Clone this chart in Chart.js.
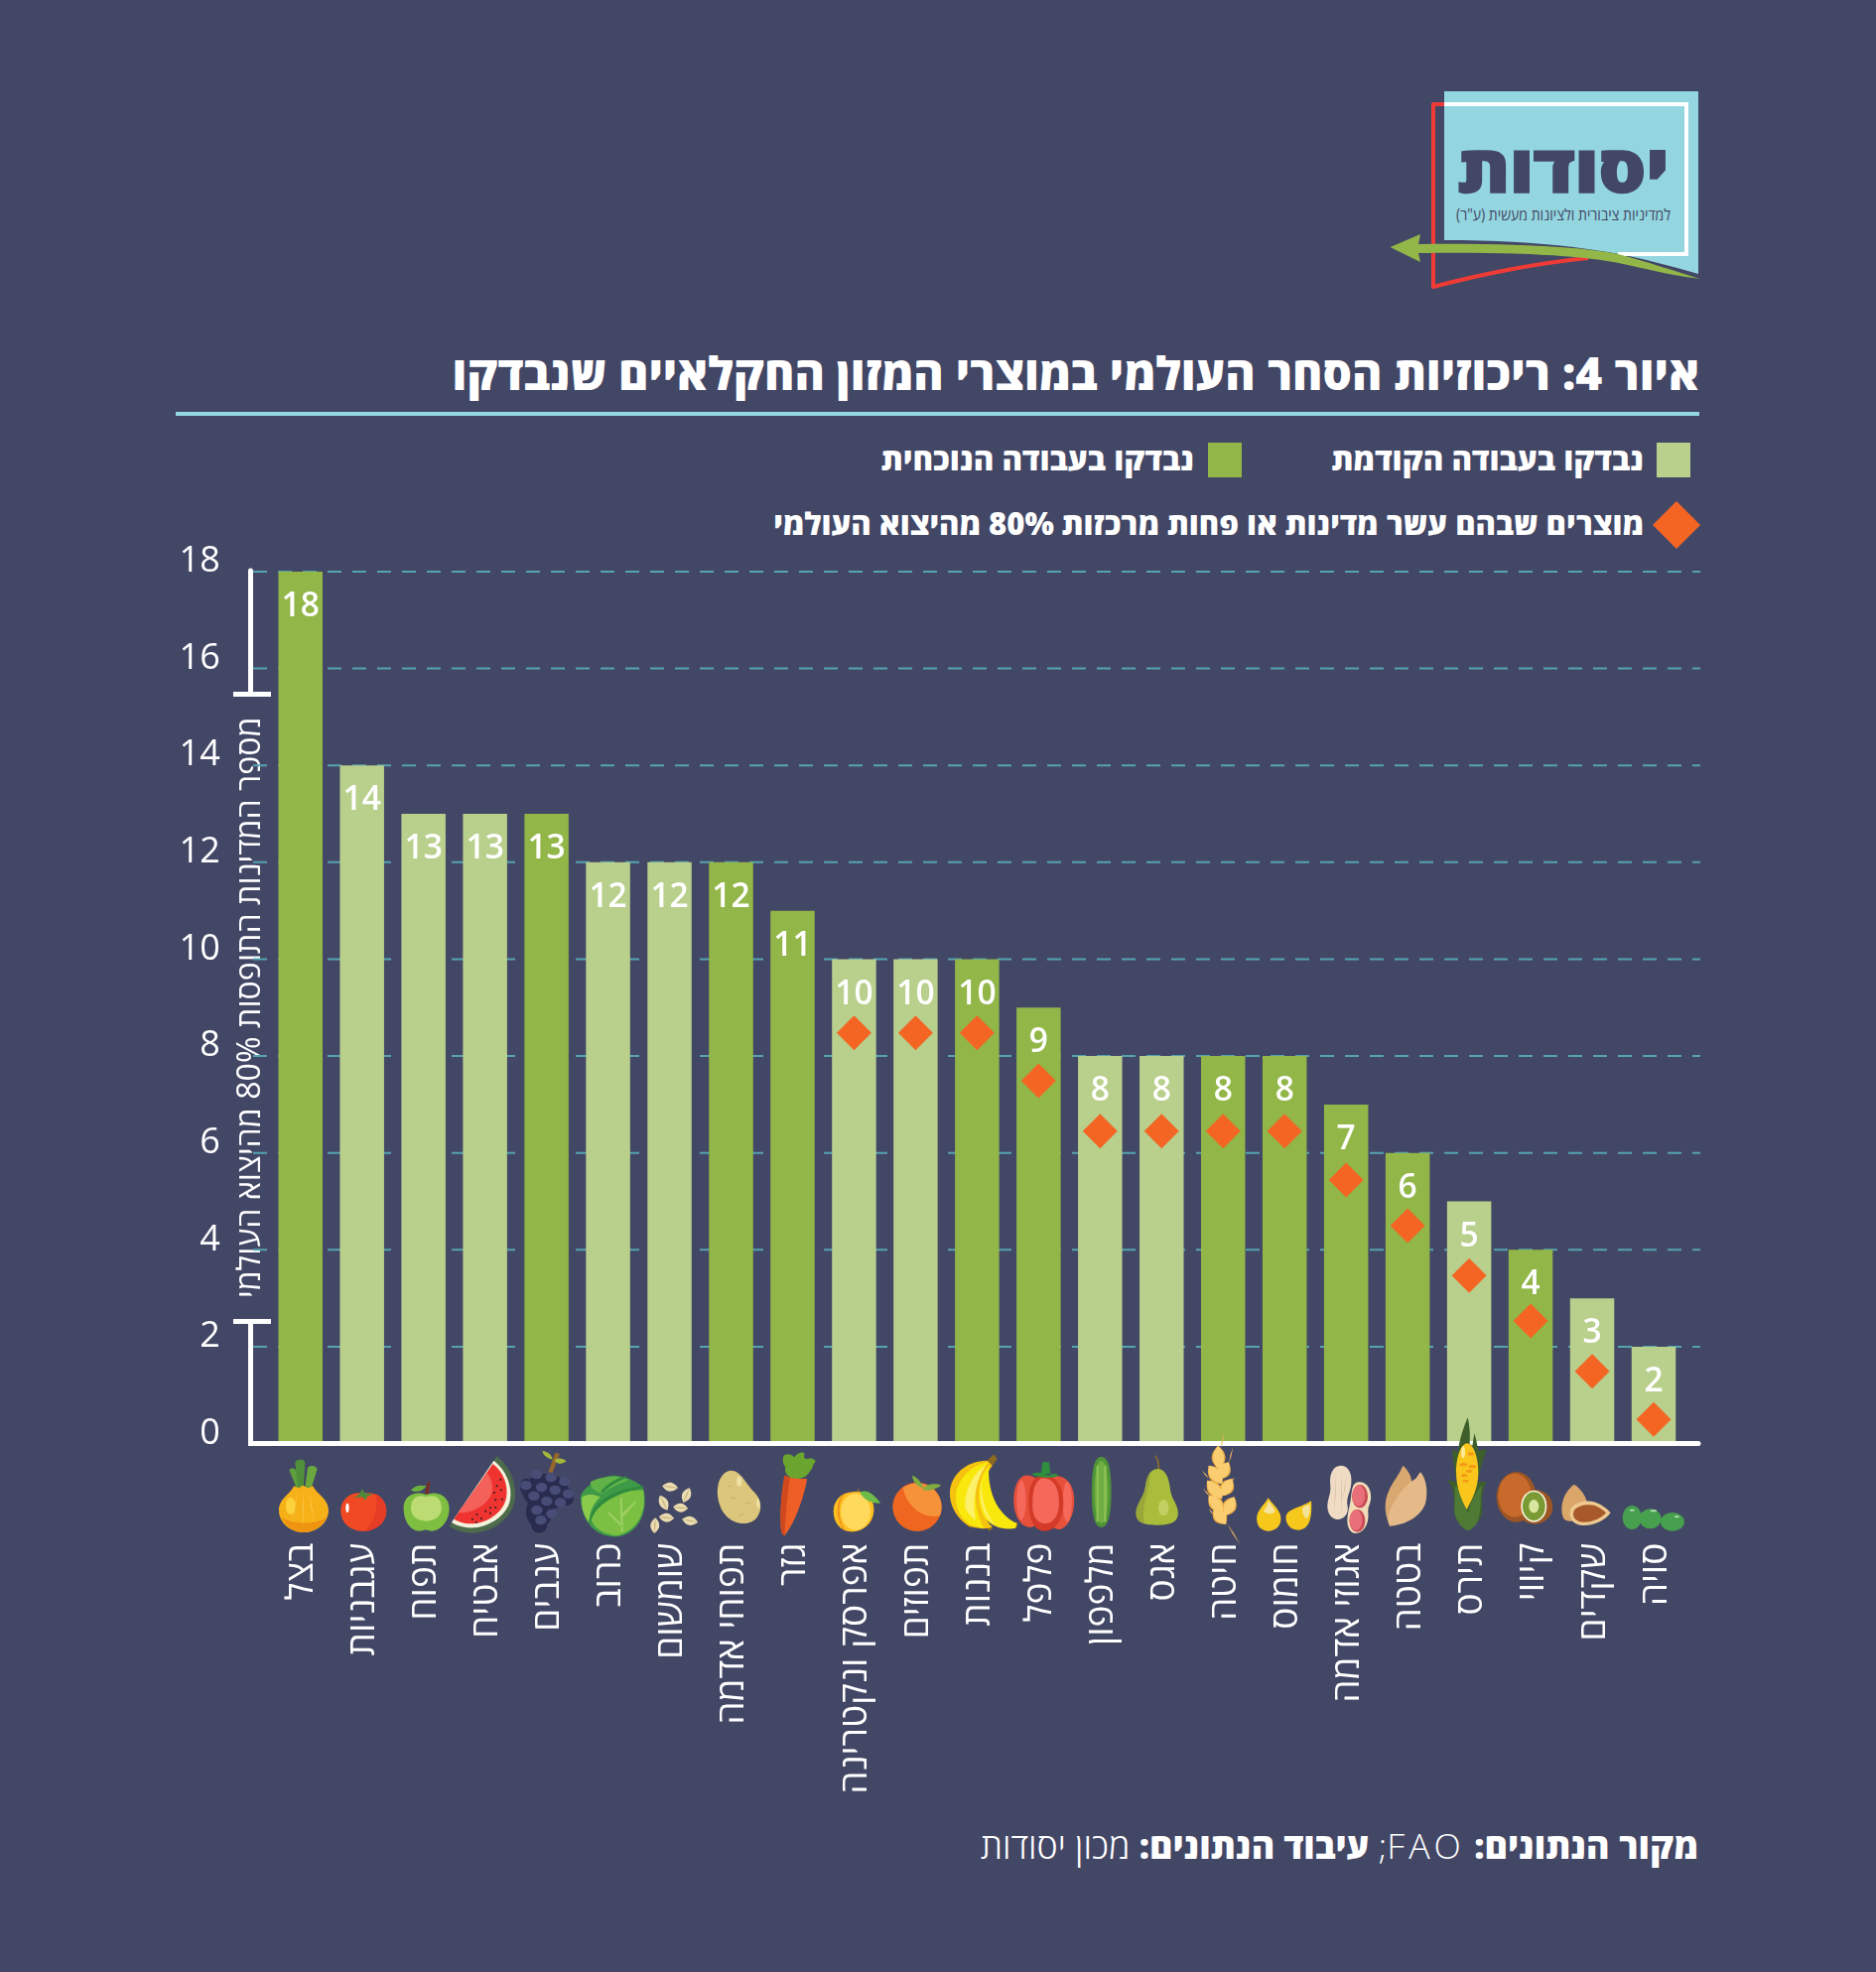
<!DOCTYPE html>
<html lang="he" dir="rtl">
<head>
<meta charset="utf-8">
<title>ריכוזיות הסחר העולמי</title>
<script src="https://cdn.jsdelivr.net/npm/chart.js@4"></script>
<style>
    html, body { margin: 0; padding: 0; background: #434766; }
    body { position: relative; width: 1890px; height: 1987px; overflow: hidden; font-family: "Open Sans", "Noto Sans", sans-serif; color: #fff; }
    #chart { position: absolute; left: 0; top: 0; }
    #logo { position: absolute; left: 0; top: 0; }
    .txt { position: absolute; white-space: nowrap; line-height: 1; }
    #title { right: 178px; top: 353px; font-size: 46.2px; font-weight: 800; }
    #rule { position: absolute; left: 177px; top: 415px; width: 1535px; height: 4px; background: #93d6df; }
    .lg { font-size: 31.3px; font-weight: 800; }
    .sw { position: absolute; top: 446px; width: 34px; height: 35px; }
    #source { right: 179px; top: 1842px; font-size: 35.7px; font-weight: 300; }
    #source b { font-weight: 800; }
    #source span { letter-spacing: 4px; }
</style>
</head>
<body>
<svg id="logo" width="1890" height="320" xmlns="http://www.w3.org/2000/svg">
    <path d="M1455 92H1711V276C1660 262 1600 242 1455 242Z" fill="#93d6df"/>
    <path d="M1455 105H1699V256H1630" fill="none" stroke="#fff" stroke-width="4"/>
    <path d="M1600 260C1540 266 1490 277 1444 289V105H1455" fill="none" stroke="#ef3b36" stroke-width="4" stroke-linejoin="round"/>
    <path d="M1429 246L1431 236L1400.5 249L1431 264L1429 255C1500 254 1590 255 1640 267C1670 274 1695 279 1713 281C1690 274 1660 264 1630 256C1590 247 1500 245 1429 246Z" fill="#92b648"/>
    <text x="1575" y="194" text-anchor="middle" font-size="66" font-weight="800" fill="#434766" stroke="#434766" stroke-width="1.5" textLength="213" lengthAdjust="spacingAndGlyphs">יסודות</text>
    <text x="1575" y="222" text-anchor="middle" font-size="16" fill="#434766" textLength="216" lengthAdjust="spacingAndGlyphs">למדיניות ציבורית ולציונות מעשית (ע"ר)</text>
</svg>
<div id="title" class="txt">איור 4: ריכוזיות הסחר העולמי במוצרי המזון החקלאיים שנבדקו</div>
<div id="rule"></div>
<div class="sw" style="left:1669px;background:#b9cf8c"></div>
<div class="txt lg" style="right:234px;top:447px">נבדקו בעבודה הקודמת</div>
<div class="sw" style="left:1217px;background:#92b648"></div>
<div class="txt lg" style="right:687px;top:447px">נבדקו בעבודה הנוכחית</div>
<svg style="position:absolute;left:1664px;top:504px" width="50" height="50"><path d="M25 1L49 25L25 49L1 25Z" fill="#f46524"/></svg>
<div class="txt lg" style="right:234px;top:512px;font-size:31px">מוצרים שבהם עשר מדינות או פחות מרכזות 80% מהיצוא העולמי</div>
<div id="source" class="txt"><b>מקור הנתונים:</b> <span>FAO</span>; <b>עיבוד הנתונים:</b> מכון יסודות</div>
<canvas id="chart" width="1890" height="1987"></canvas>
<script>
const categories = ['בצל', 'עגבניות', 'תפוח', 'אבטיח', 'ענבים', 'כרוב', 'שומשום', 'תפוחי אדמה', 'גזר', 'אפרסק ונקטרינה', 'תפוזים', 'בננות', 'פלפל', 'מלפפון', 'אגס', 'חיטה', 'חומוס', 'אגוזי אדמה', 'בטטה', 'תירס', 'קיווי', 'שקדים', 'סויה'];
const countryCounts = [18, 14, 13, 13, 13, 12, 12, 12, 11, 10, 10, 10, 9, 8, 8, 8, 8, 7, 6, 5, 4, 3, 2];
const inCurrentStudy = [1, 0, 0, 0, 1, 0, 0, 1, 1, 0, 0, 1, 1, 0, 0, 1, 1, 1, 1, 0, 1, 0, 0];
const diamondLevels = [null, null, null, null, null, null, null, null, null, 8.48, 8.48, 8.48, 7.49, 6.45, 6.45, 6.45, 6.45, 5.44, 4.5, 3.47, 2.53, 1.49, 0.5];
const yTicks = [0, 2, 4, 6, 8, 10, 12, 14, 16, 18];
const yTitle = 'מספר המדינות התופסות 80% מהיצוא העולמי';

const DARK = '#92b648', LIGHT = '#b9cf8c', DIAMOND = '#f46524', GRID = '#55a3b0';
const FONT = '"Open Sans", "Noto Sans", sans-serif';

// ellipse as an svg path string
function e(cx, cy, rx, ry) {
    ry = ry || rx;
    return `M${cx - rx} ${cy}a${rx} ${ry} 0 1 0 ${2 * rx} 0a${rx} ${ry} 0 1 0 ${-2 * rx} 0Z`;
}

// pointed grain shape between two tips
function lens(x1, y1, x2, y2, w) {
    const len = Math.hypot(x2 - x1, y2 - y1);
    const mx = (x1 + x2) / 2, my = (y1 + y2) / 2;
    const nx = -(y2 - y1) / len * w, ny = (x2 - x1) / len * w;
    return `M${x1} ${y1}Q${mx + nx} ${my + ny} ${x2} ${y2}Q${mx - nx} ${my - ny} ${x1} ${y1}Z`;
}

const melonSeeds = [[703, 152], [692, 172], [705, 184], [684, 192], [708, 212], [688, 214], [672, 238], [688, 237], [658, 248], [672, 254], [632, 258], [645, 270], [618, 272], [630, 282]];
const grapeBerries = [[812, 137], [856, 146], [897, 158], [780, 170], [827, 176], [868, 184], [908, 196], [804, 202], [843, 218], [884, 222], [813, 245], [858, 256], [825, 275]];
const sesameSeeds = [[1192, 172, 1240, 178], [1256, 222, 1275, 178], [1185, 200, 1208, 245], [1225, 235, 1270, 240], [1182, 265, 1228, 270], [1168, 315, 1172, 268], [1252, 272, 1300, 282]];
const wheatGrains = [[1373, 50, 1376, 122], [1345, 110, 1385, 165], [1340, 155, 1385, 210], [1345, 200, 1388, 250], [1360, 240, 1397, 287], [1405, 100, 1375, 152], [1415, 150, 1385, 202], [1422, 205, 1393, 262]];
const wheatAwns = [[1392, 8, 1380, 60], [1325, 125, 1345, 150], [1418, 55, 1405, 105], [1328, 180, 1350, 205], [1345, 240, 1360, 260], [1422, 145, 1412, 165], [1400, 285, 1440, 350]];

// Food drawings under the axis. Paths are in 3x units, x and y place them from the bar centre and the axis line
const icons = [
    { x: -32.75, y: -14.6, parts: [
        ['#5e9e3e', 'M64 124C72 112 84 118 88 130L104 175L86 178Z'],
        ['#6aa83e', 'M120 116C130 106 150 112 148 124L132 175L112 178Z'],
        ['#4f8f3a', 'M82 100C88 90 108 90 112 100L108 175L90 175Z'],
        ['#f7b118', 'M78 172L92 178L106 170L120 178L136 172C145 195 183 210 183 245C183 285 145 312 108 312C70 312 33 285 33 245C33 210 70 195 78 172Z'],
        ['#ee9410', 'M40 265C70 290 150 290 178 265C165 295 135 312 108 312C80 312 52 295 40 265Z'],
        ['#fcd465', lens(106, 185, 106, 300, 2) + lens(88, 185, 74, 290, 2) + lens(124, 185, 140, 290, 2)],
        ['#fdd33c', e(68, 232, 14, 26)]] },
    { x: -94.75, y: -14.6, parts: [
        ['#f04923', 'M288 195C330 185 358 215 358 245C358 285 325 308 288 308C250 308 220 285 220 245C220 215 250 185 288 195Z'],
        ['#e53c26', 'M325 195C345 205 358 225 358 245C358 285 325 308 290 308C320 290 335 240 325 195Z'],
        ['#4f8a3a', 'M285 180L292 193L318 197L300 203L296 215L284 205L258 208L276 197Z'],
        ['#fff', e(240, 238, 5, 14)]] },
    { x: -156.75, y: -14.6, parts: [
        ['#7a2e22', 'M475 195L482 160L490 158L486 197Z'],
        ['#6bb03d', 'M432 185C442 170 460 168 478 172C472 186 450 194 432 185Z'],
        ['#7ebf41', 'M478 198C510 185 548 200 548 240C548 280 520 308 495 308C485 308 480 304 478 304C474 304 468 308 458 308C432 308 410 280 410 238C410 200 445 185 478 198Z'],
        ['#bcdc73', 'M478 205C505 195 525 210 525 238C525 262 505 278 478 278C450 278 432 262 432 238C432 210 452 195 478 205Z']] },
    { x: -218.75, y: -14.6, parts: [
        ['#4c6b4a', 'M692 82C735 115 755 175 745 220C730 290 630 345 548 294Z'],
        ['#f3f2dc', 'M683 95C720 125 740 170 732 215C720 275 625 325 555 282Z'],
        ['#ef3330', 'M680 105C712 130 728 170 720 210C708 265 625 310 562 272Z'],
        ['#f4605a', 'M662 133C685 160 685 200 655 225C625 250 590 255 575 252Z'],
        ['#222', melonSeeds.map(s => e(s[0], s[1], 3, 3)).join('')]] },
    { x: -280.75, y: -14.6, parts: [
        ['#96672a', 'M848 130L868 72L882 74L860 132Z'],
        ['#a5b83a', 'M866 95C875 85 892 88 902 97C890 108 875 106 866 95Z M860 92C845 88 832 80 830 66C845 68 860 78 860 92Z'],
        ['#2a2c4f', e(840, 190, 70, 55) + e(820, 250, 40, 48) + e(820, 292, 24, 22) + e(780, 175, 18, 26) + e(905, 205, 20, 26)],
        ['#484d78', grapeBerries.map(b => e(b[0], b[1], 17, 14)).join('')]] },
    { x: -342.75, y: -14.6, parts: [
        ['#3f9a48', 'M1040 140C1090 140 1135 170 1135 180C1150 240 1130 310 1060 325C1000 330 950 290 945 210C945 180 1000 145 1040 140Z'],
        ['#7bc043', 'M1135 185C1145 250 1120 305 1055 322C1000 318 975 285 975 262C990 220 1060 180 1135 185Z'],
        ['#8acb4c', 'M950 205C975 190 1000 205 1005 205C985 225 970 250 972 285C955 260 945 235 950 205Z'],
        ['#61b347', 'M975 160C1010 140 1070 140 1090 155C1060 165 1030 180 1010 195C990 190 975 180 975 160Z'],
        ['#2e8b3e', 'M970 285C975 235 1020 185 1135 172L1135 178C1040 195 985 235 975 285Z M1005 190C1025 165 1060 145 1085 142L1085 147C1060 155 1035 170 1012 192Z'],
        ['#a3d26a', 'M1070 205L1074 310L1068 310L1065 210Z M1072 255L1110 218L1113 221L1074 265Z M1072 290L1030 250L1027 254L1072 298Z']] },
    { x: -404.75, y: -14.6, parts: [
        ['#eadbb0', sesameSeeds.map(s => lens(s[0], s[1], s[2], s[3], 27)).join('')],
        ['#c9b681', sesameSeeds.map(s => lens(s[0], s[1], s[2], s[3], 5)).join('')]] },
    { x: -466.75, y: -14.6, parts: [
        ['#dcc67c', 'M1400 125C1430 125 1445 165 1470 190C1490 210 1497 240 1480 265C1460 295 1410 290 1385 262C1360 235 1355 190 1362 165C1368 140 1385 125 1400 125Z'],
        ['#eee0a4', e(1425, 158, 8, 15) + e(1482, 225, 5, 14)],
        ['#b3a25f', lens(1395, 205, 1420, 210, 2) + lens(1440, 225, 1462, 222, 2) + lens(1420, 262, 1445, 255, 2) + lens(1385, 170, 1405, 175, 2)]] },
    { x: -28.75, y: -14.6, parts: [
        ['#6aa62f', 'M90 150C70 145 60 130 65 115C55 105 55 85 62 78C75 72 85 78 92 85C100 70 115 68 122 72C122 82 118 88 128 90C145 85 158 92 155 100C145 108 150 118 140 125C130 145 115 150 90 150Z'],
        ['#ee5f26', 'M62 140C85 150 110 150 130 150C125 190 95 285 62 322C52 320 50 300 50 270C50 220 55 180 62 140Z'],
        ['#d0481e', 'M62 140C66 142 74 146 78 146C70 200 65 270 62 322C52 320 50 300 50 270C50 220 55 180 62 140Z']] },
    { x: -90.75, y: -14.6, parts: [
        ['#8a6a40', 'M280 192L285 180L289 181L286 193Z'],
        ['#fdbf1f', 'M270 190C310 185 335 210 332 250C328 290 295 312 262 310C230 308 210 282 210 248C210 215 235 190 270 190Z'],
        ['#f08f1d', 'M245 195C225 215 220 265 245 305L240 303C215 265 218 215 240 197Z'],
        ['#ffd95c', e(277, 250, 45, 55)],
        ['#6dbb48', 'M290 190C315 180 335 200 352 224C325 225 300 215 290 190Z']] },
    { x: -152.75, y: -14.6, parts: [
        ['#ef6620', e(463, 235, 74, 74)],
        ['#f6923a', 'M420 178C460 150 510 165 530 205C540 230 537 250 532 262C490 272 435 245 420 178Z'],
        ['#80ad40', 'M448 140C465 145 478 165 482 178C465 175 450 160 448 140Z M482 178C495 165 518 162 536 170C520 182 500 186 482 185Z']] },
    { x: -214.75, y: -14.6, parts: [
        ['#8a6a20', 'M672 98L695 76L705 90L688 115Z M615 290L630 282L635 292L620 298Z M675 300L688 290L692 300L680 308Z M755 285L767 282L765 298L755 300Z'],
        ['#f5c20f', 'M675 95C610 95 562 140 562 195C562 245 600 285 625 295C640 300 680 305 690 295C650 260 640 180 690 110Z'],
        ['#f9e80c', 'M580 200C585 150 630 105 680 100C640 135 620 210 665 300L625 290C595 270 578 240 580 200Z'],
        ['#fdf06a', 'M608 235C605 180 640 125 670 110C645 150 628 205 640 275C625 265 612 250 608 235Z'],
        ['#f9e80c', 'M680 110C675 180 700 255 765 285L760 300C720 305 690 295 668 270C640 220 645 150 680 110Z'],
        ['#fdf06a', 'M662 140C650 185 665 250 700 290C670 275 640 220 662 140Z']] },
    { x: -276.75, y: -14.6, parts: [
        ['#e7503a', 'M800 140C770 135 755 175 755 215C755 260 775 295 805 297C820 297 830 285 830 250L830 170C830 150 815 140 800 140Z M880 142C915 140 938 170 938 215C938 265 915 303 890 303C870 303 860 280 860 250V170C860 155 870 145 880 142Z'],
        ['#f5685a', e(778, 215, 14, 60) + e(917, 220, 14, 60)],
        ['#d33a27', 'M845 138C880 140 905 170 905 220C905 270 885 308 848 308C815 308 800 270 800 220C800 170 815 140 845 138Z'],
        ['#f5685a', 'M845 148C875 150 892 175 892 222C892 255 880 285 850 285C820 285 810 255 812 222C812 175 825 150 845 148Z'],
        ['#2f8f3f', 'M842 100H862L866 135H838Z M810 135C825 128 845 132 860 140C875 132 885 132 890 140C880 150 820 148 810 135Z']] },
    { x: -338.75, y: -14.6, parts: [
        ['#4f9437', 'M1020 84C1040 84 1050 115 1050 190C1050 260 1040 297 1020 297C1000 297 991 260 991 190C991 115 1000 84 1020 84Z'],
        ['#6fae42', e(1020, 190, 21, 95)],
        ['#8cc152', 'M1005 110H1012V280H1005Z M1028 110H1035V280H1028Z']] },
    { x: -400.75, y: -14.6, parts: [
        ['#8a6a30', 'M1182 78C1195 88 1197 105 1196 125L1190 125C1192 105 1188 92 1181 82Z'],
        ['#a9bd3a', 'M1190 120C1215 120 1225 150 1228 180C1232 215 1252 225 1252 255C1252 285 1220 290 1190 290C1155 290 1125 285 1125 255C1125 225 1150 205 1153 175C1156 145 1168 120 1190 120Z'],
        ['#9aa83a', 'M1153 175C1155 160 1160 145 1168 130C1165 190 1140 235 1150 285C1135 282 1125 272 1125 255C1125 225 1150 205 1153 175Z'],
        ['#c4cf62', e(1208, 238, 16, 24)]] },
    { x: -462.75, y: -14.6, parts: [
        ['#e9b358', wheatAwns.map(a => lens(a[0], a[1], a[2], a[3], 4)).join('')],
        ['#e9a93f', wheatGrains.map(g => lens(g[0], g[1], g[2], g[3], 42)).join('')],
        ['#f9cd70', wheatGrains.map(g => lens(g[0], g[1], g[2], g[3], 33)).join('')]] },
    { x: -84.75, y: -29.6, parts: [
        ['#f6c81c', 'M205 253C215 270 243 290 243 315C243 340 225 353 205 353C185 353 170 340 170 315C170 290 195 272 205 253Z M335 262C337 300 335 350 295 350C270 350 258 330 258 312C260 285 300 285 335 262Z'],
        ['#f4e39c', 'M205 262C215 275 225 285 225 295C215 305 195 300 190 292C198 285 203 272 205 262Z M330 272C333 290 328 310 320 315C310 310 305 290 310 280Z']] },
    { x: -146.75, y: -29.6, parts: [
        ['#f0dcc4', 'M425 155C450 155 460 185 455 215C450 245 440 250 445 280C448 305 430 320 412 318C390 316 380 290 385 265C390 240 395 235 392 210C390 180 400 155 425 155Z'],
        ['#cdb394', lens(410, 175, 405, 300, 2) + lens(428, 170, 425, 305, 2) + lens(442, 185, 430, 260, 2)],
        ['#f1ddb8', 'M480 205C505 205 517 230 515 255C513 275 505 278 507 300C510 335 490 360 470 360C450 360 440 335 445 305C448 285 452 275 455 250C458 225 460 205 480 205Z'],
        ['#c94d55', e(482, 248, 24, 35) + e(474, 322, 24, 34)],
        ['#e9707a', e(478, 246, 19, 32) + e(470, 320, 19, 31)]] },
    { x: -208.75, y: -29.6, parts: [
        ['#d9a871', 'M612 155C625 165 640 190 638 205C615 225 585 270 570 330C555 300 555 260 570 230C580 205 600 185 612 155Z'],
        ['#e5b988', 'M665 175C680 190 690 230 680 270C665 310 620 335 572 338C565 325 565 310 575 285C590 255 615 215 650 195C655 190 660 180 665 175Z']] },
    { x: -270.75, y: -29.6, parts: [
        ['#3e5f2b', 'M808 10C815 40 815 70 814 90L822 95L828 58C835 80 838 100 840 110L863 105C860 130 845 160 838 205L865 205C852 225 850 250 852 300C845 325 820 345 808 352C790 345 775 325 768 300C765 250 770 225 745 197L775 205C768 170 762 130 762 105L778 115C782 80 795 40 808 10Z'],
        ['#4f7a35', 'M770 215C790 235 800 270 808 300C815 270 830 235 850 215C845 260 850 300 835 330C825 345 815 350 808 352C790 345 775 325 768 300Z'],
        ['#fbc61c', 'M806 88C825 88 840 130 840 175C840 225 820 260 805 288C790 260 773 225 773 175C773 130 788 88 806 88Z'],
        ['#f59a16', e(817, 120, 10, 5) + e(795, 152, 12, 5) + e(822, 158, 12, 5) + e(812, 172, 10, 5) + e(798, 185, 10, 5) + e(802, 202, 10, 4)],
        ['#fdeb9a', e(794, 115, 6, 18)]] },
    { x: -332.75, y: -29.6, parts: [
        ['#9c5524', e(1010, 280, 55, 52) + e(955, 250, 60, 76)],
        ['#c76a2b', e(950, 245, 50, 66)],
        ['#f6f3dc', e(1008, 278, 39, 48)],
        ['#7a9a33', e(1008, 278, 34, 43)],
        ['#d9e6a0', e(1008, 278, 15, 20)]] },
    { x: -394.75, y: -29.6, parts: [
        ['#dba66a', 'M1130 212C1150 225 1170 250 1170 280C1160 320 1125 332 1100 318C1085 295 1090 240 1130 212Z'],
        ['#edc98f', 'M1120 285C1135 262 1170 260 1190 265C1210 272 1230 285 1240 298C1225 320 1190 338 1155 336C1125 335 1110 310 1120 285Z'],
        ['#a8592b', 'M1130 290C1145 272 1175 272 1190 275C1205 280 1218 290 1226 298C1210 315 1185 328 1155 326C1130 324 1122 305 1130 290Z']] },
    { x: -456.75, y: -29.6, parts: [
        ['#46a04e', e(1305, 312, 29, 36) + e(1360, 316, 33, 30) + e(1427, 325, 36, 28)],
        ['#b5e0b0', e(1305, 290, 8, 3) + e(1370, 292, 10, 3) + e(1440, 310, 8, 3)]] }
];

// Gridlines reach past the plot on both sides, so they are drawn here and not by the scale
const gridPlugin = {
    id: 'dashGrid',
    beforeDatasetsDraw(chart) {
        const { ctx, scales: { y } } = chart;
        ctx.save();
        ctx.strokeStyle = GRID;
        ctx.lineWidth = 2;
        ctx.setLineDash([14, 11]);
        yTicks.slice(1).forEach(v => {
            const py = y.getPixelForValue(v);
            ctx.beginPath();
            ctx.moveTo(255, py);
            ctx.lineTo(1713, py);
            ctx.stroke();
        });
        ctx.restore();
    }
};

const overlayPlugin = {
    id: 'overlay',
    afterDatasetsDraw(chart) {
        const { ctx, scales: { x, y } } = chart;
        const base = y.getPixelForValue(0);
        ctx.save();

        // value labels inside the bars
        ctx.fillStyle = '#fff';
        ctx.font = '600 33.5px ' + FONT;
        ctx.textAlign = 'center';
        ctx.textBaseline = 'middle';
        countryCounts.forEach((v, i) => {
            ctx.fillText(String(v), x.getPixelForValue(i), y.getPixelForValue(v) + 35.5);
        });

        // broken y axis with its two caps, x axis line
        ctx.strokeStyle = '#fff';
        ctx.lineWidth = 5;
        ctx.lineCap = 'round';
        const capTop = y.getPixelForValue(15.47), capBottom = y.getPixelForValue(2.52);
        ctx.beginPath();
        ctx.moveTo(252.5, y.getPixelForValue(18) - 1);
        ctx.lineTo(252.5, capTop);
        ctx.moveTo(252.5, capBottom);
        ctx.lineTo(252.5, base);
        ctx.lineTo(1711, base);
        ctx.stroke();
        ctx.lineCap = 'butt';
        ctx.beginPath();
        ctx.moveTo(235, capTop);
        ctx.lineTo(273, capTop);
        ctx.moveTo(235, capBottom);
        ctx.lineTo(273, capBottom);
        ctx.stroke();

        // food icons
        icons.forEach((icon, i) => {
            ctx.save();
            ctx.translate(x.getPixelForValue(i) + icon.x, base + icon.y);
            ctx.scale(1 / 3, 1 / 3);
            icon.parts.forEach(([color, d]) => {
                ctx.fillStyle = color;
                ctx.fill(new Path2D(d));
            });
            ctx.restore();
        });
        ctx.restore();
    }
};

new Chart(document.getElementById('chart'), {
    data: {
        labels: categories,
        datasets: [
            {
                type: 'line',
                data: diamondLevels,
                showLine: false,
                pointStyle: 'rectRot',
                pointRadius: 17.5,
                pointBackgroundColor: DIAMOND,
                pointBorderWidth: 0,
                order: 0
            },
            {
                type: 'bar',
                data: countryCounts,
                backgroundColor: inCurrentStudy.map(f => f ? DARK : LIGHT),
                categoryPercentage: 1,
                barPercentage: 0.718,
                order: 1
            }
        ]
    },
    options: {
        responsive: false,
        animation: false,
        devicePixelRatio: 1,
        layout: { padding: { left: 0, right: 193, top: 576, bottom: 132.4 } },
        plugins: { legend: { display: false }, tooltip: { enabled: false } },
        scales: {
            x: {
                grid: { display: false },
                border: { display: false },
                afterFit(scale) { scale.height = 400; },
                ticks: {
                    autoSkip: false,
                    minRotation: 90,
                    maxRotation: 90,
                    padding: 92,
                    labelOffset: 2,
                    color: '#fff',
                    font: { family: FONT, size: 37 }
                }
            },
            y: {
                min: 0,
                max: 18,
                grid: { display: false, drawTicks: false },
                border: { display: false },
                afterFit(scale) { scale.width = 271.75; },
                title: {
                    display: true,
                    text: yTitle,
                    color: '#fff',
                    padding: { top: 234, bottom: 0 },
                    font: { family: FONT, size: 32.2 }
                },
                afterBuildTicks(scale) { scale.ticks = yTicks.map(value => ({ value })); },
                ticks: {
                    padding: 50,
                    labelOffset: -10,
                    color: '#fff',
                    font: { family: FONT, size: 36 }
                }
            }
        }
    },
    plugins: [gridPlugin, overlayPlugin]
});
</script>
</body>
</html>
